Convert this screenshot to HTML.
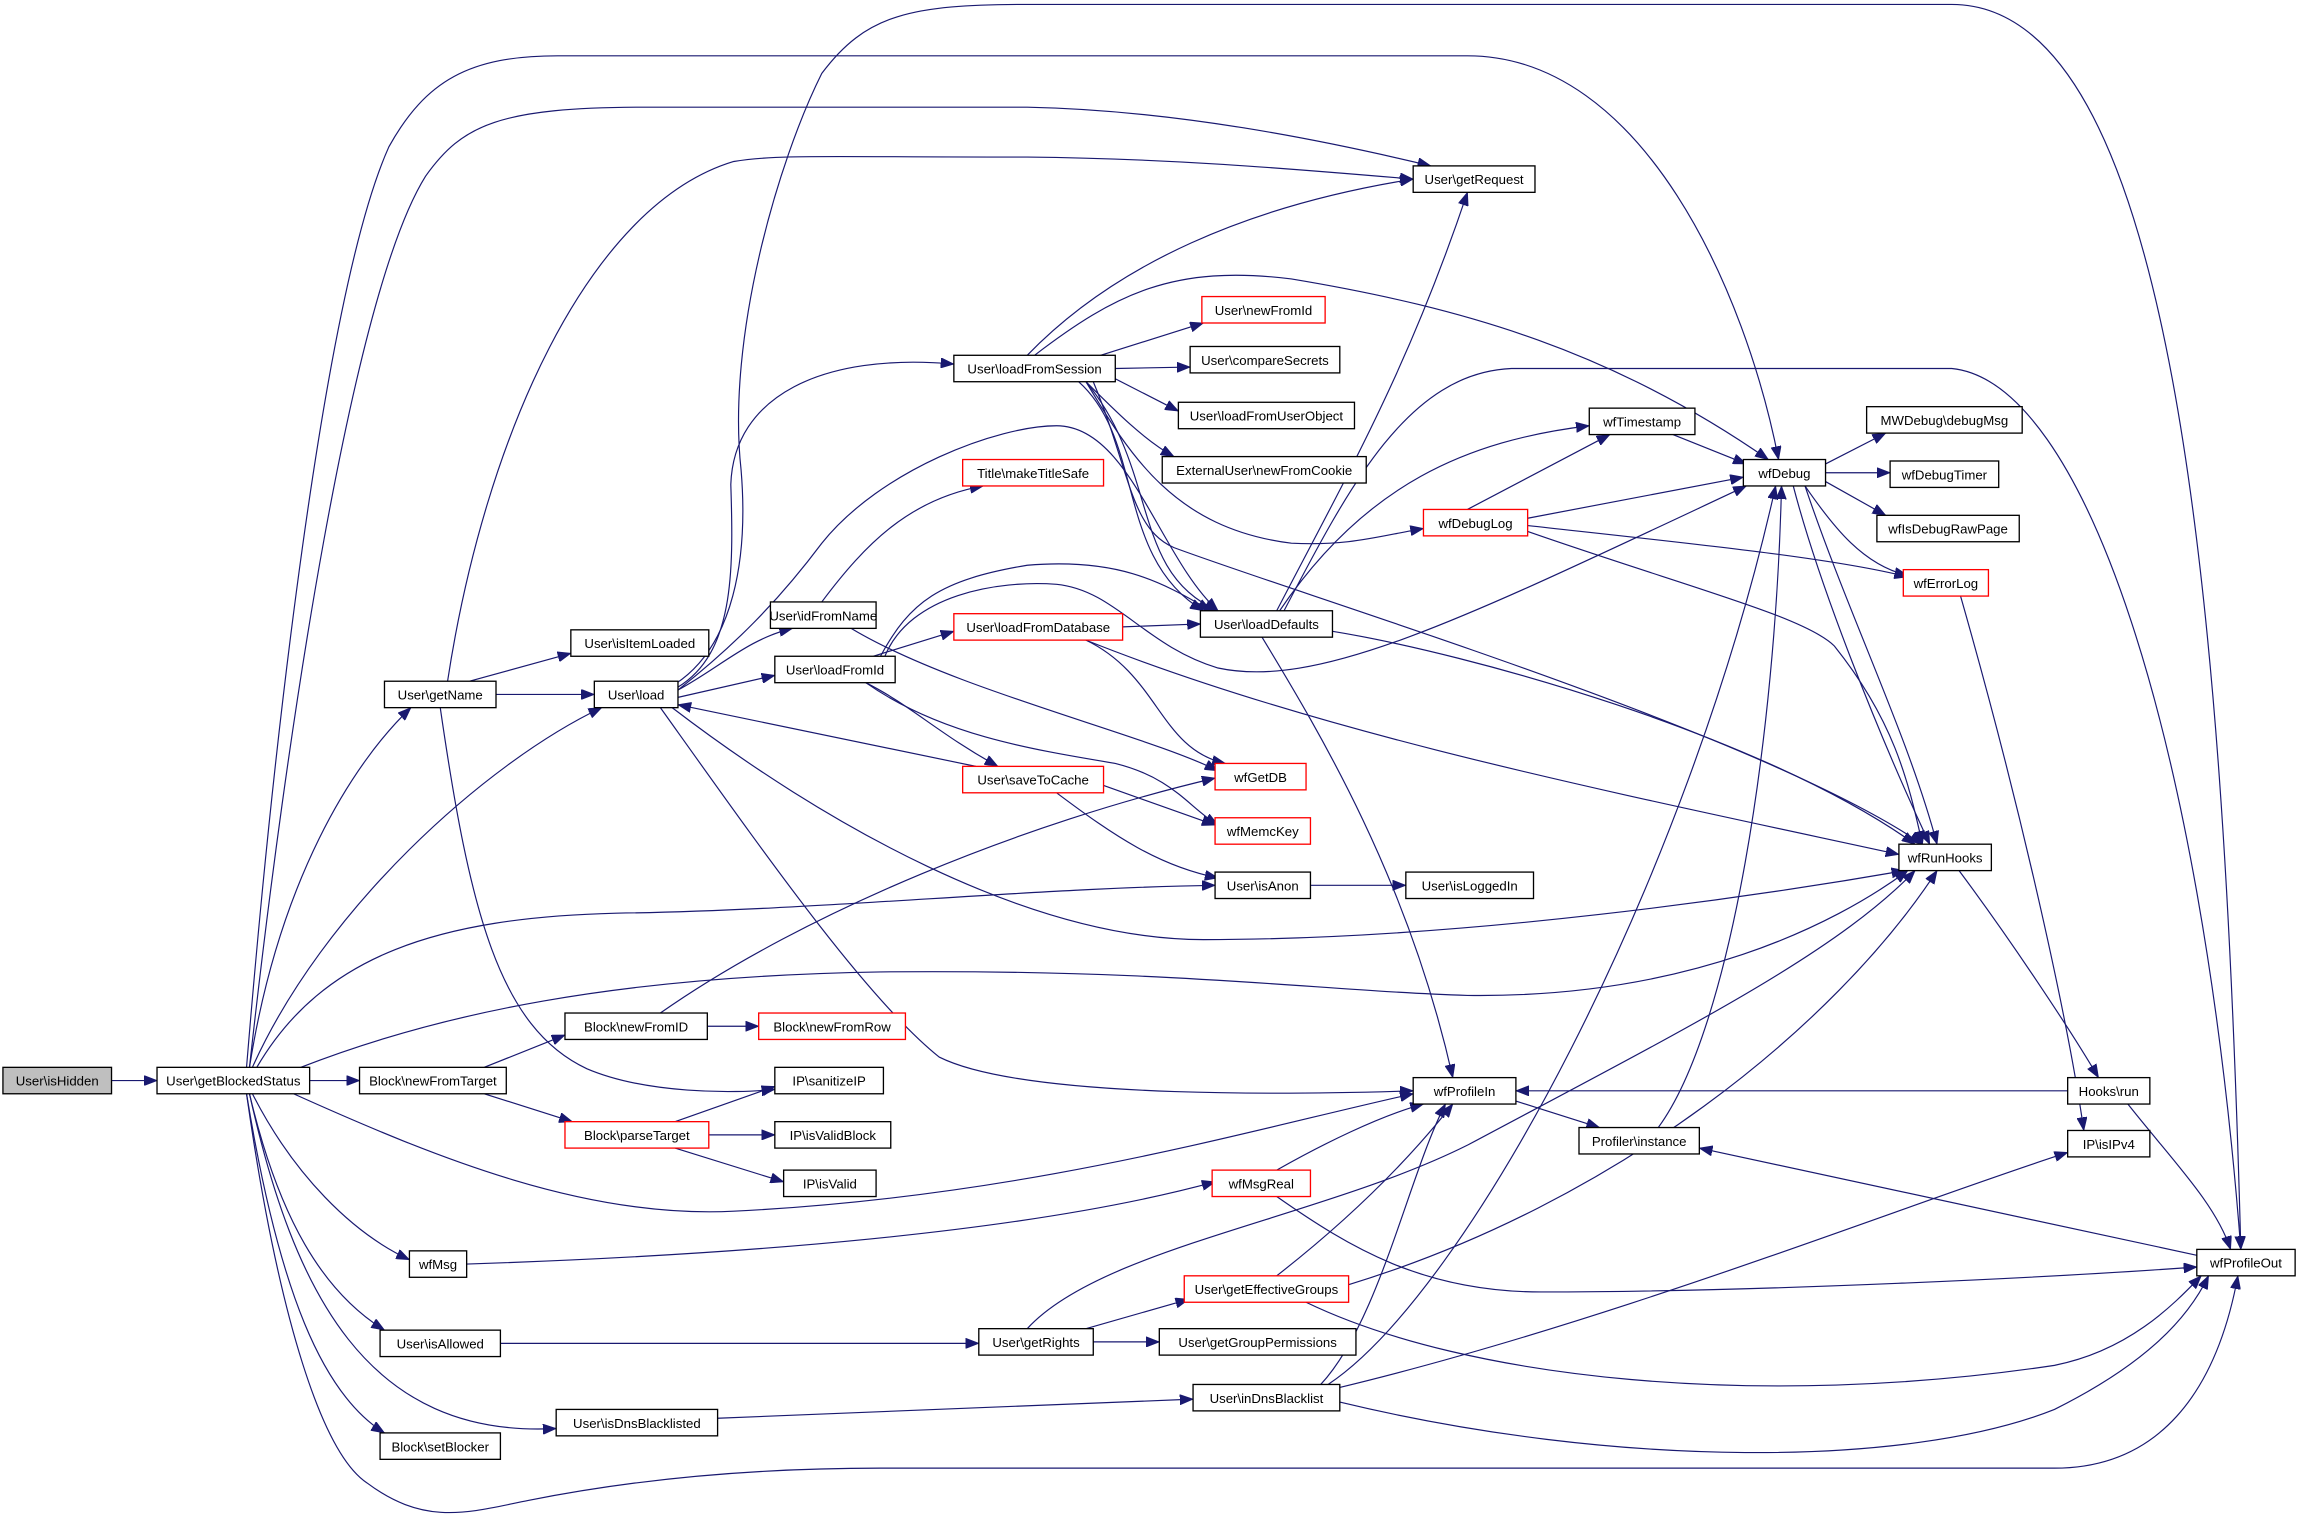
<!DOCTYPE html>
<html><head><meta charset="utf-8"><style>
html,body{margin:0;padding:0;background:#fff;}
svg{display:block;}
text{font-family:"Liberation Sans",sans-serif;font-size:9px;fill:#000;}
.e{fill:none;stroke:#191970;stroke-width:0.8;}
.n{fill:#fff;stroke:#000;stroke-width:0.9;}
.r{fill:#fff;stroke:#ff0000;stroke-width:0.9;}
.g{fill:#bfbfbf;stroke:#000;stroke-width:0.9;}
</style></head><body>
<svg width="2301" height="1521" viewBox="0 0 1568 1036" preserveAspectRatio="none" xmlns="http://www.w3.org/2000/svg">
<defs><marker id="a" markerWidth="9" markerHeight="7" refX="9" refY="3.5" orient="auto" markerUnits="userSpaceOnUse"><path d="M0,0 L9,3.5 L0,7 z" fill="#191970" stroke="#191970" stroke-width="0.5"/></marker></defs>
<g class="e" marker-end="url(#a)">
<path d="M76,736 L107,736"/>
<path d="M211,736 L245,736"/>
<path d="M170,727 C190,600 240,520 280,482"/>
<path d="M172,727 C220,620 330,520 410,482"/>
<path d="M168,727 C185,520 220,200 265,100 C290,55 320,38 380,38 L1000,38 C1120,38 1190,200 1212,313"/>
<path d="M170,727 C195,500 240,200 290,120 C315,85 340,73 440,73 L700,73 C800,75 900,95 975,113"/>
<path d="M168,745 C190,900 220,990 250,1010 C290,1040 320,1030 360,1022 C420,1010 500,1000 600,1000 L1400,1000 C1470,1000 1510,950 1525,869"/>
<path d="M175,727 C220,650 300,625 420,622 C560,620 700,605 828,603"/>
<path d="M205,727 C300,690 420,665 600,662 C800,660 900,675 1000,678 C1150,680 1250,630 1300,593"/>
<path d="M200,745 C300,790 400,830 500,825 C700,815 850,770 963,745"/>
<path d="M172,745 C200,800 240,840 279,858"/>
<path d="M170,745 C190,830 220,880 262,906"/>
<path d="M170,745 C200,880 250,980 379,973"/>
<path d="M168,745 C190,880 220,950 262,976"/>
<path d="M330,727 L385,705"/>
<path d="M330,745 L390,764"/>
<path d="M482,699 L517,699"/>
<path d="M450,690 C550,620 700,560 828,530"/>
<path d="M460,764 L528,740"/>
<path d="M483,773 L528,773"/>
<path d="M460,782 L534,805"/>
<path d="M300,482 C320,620 340,700 400,728 C440,745 500,745 528,742"/>
<path d="M320,464 L389,445"/>
<path d="M338,473 L405,473"/>
<path d="M305,464 C330,300 400,140 500,110 C530,105 560,107 700,107 C800,108 880,115 963,122"/>
<path d="M462,470 C490,455 510,435 540,428"/>
<path d="M462,475 L528,460"/>
<path d="M462,468 C500,445 500,390 498,330 C500,270 560,240 650,248"/>
<path d="M462,470 C500,440 530,410 560,370 C600,320 680,290 720,290 C770,290 790,380 830,416"/>
<path d="M460,466 C500,440 510,380 505,320 C495,230 530,110 560,50 C590,10 620,3 700,3 L1330,3 C1480,3 1515,400 1527,851"/>
<path d="M450,482 C520,580 590,680 640,720 C700,750 900,745 963,743"/>
<path d="M458,482 C560,560 700,640 820,640 C1000,640 1200,610 1298,593"/>
<path d="M665,522 L462,480"/>
<path d="M560,410 C590,370 620,340 670,331"/>
<path d="M580,428 C650,470 780,500 830,525"/>
<path d="M595,447 L650,430"/>
<path d="M590,465 C620,480 640,500 680,522"/>
<path d="M590,465 C640,500 700,510 760,520 C800,530 810,550 830,562"/>
<path d="M600,447 C620,410 640,395 700,385 C760,380 790,395 825,416"/>
<path d="M603,447 C620,405 680,395 720,398 C760,402 780,440 830,455 C900,470 1000,420 1190,331"/>
<path d="M765,427 L818,425"/>
<path d="M740,436 C790,460 790,510 835,520"/>
<path d="M740,436 C900,500 1100,540 1294,582"/>
<path d="M752,535 L828,562"/>
<path d="M720,540 C760,570 790,590 830,598"/>
<path d="M893,603 L958,603"/>
<path d="M700,242 C760,180 850,140 963,122"/>
<path d="M750,242 L820,220"/>
<path d="M760,251 L811,250"/>
<path d="M760,258 L803,280"/>
<path d="M740,260 C760,280 780,300 800,311"/>
<path d="M740,260 C770,310 800,360 880,370 C920,372 940,365 970,360"/>
<path d="M735,260 C780,300 760,380 820,416"/>
<path d="M740,260 C790,320 770,390 830,416"/>
<path d="M705,242 C760,200 800,180 880,190 C1000,210 1100,240 1205,313"/>
<path d="M745,260 C770,320 770,360 800,373 C900,410 1200,500 1310,575"/>
<path d="M870,416 C920,320 960,250 1000,131"/>
<path d="M872,416 C930,330 1000,300 1083,290"/>
<path d="M875,416 C920,330 960,254 1030,251 L1330,251 C1420,260 1500,500 1527,851"/>
<path d="M860,434 C900,500 960,600 990,734"/>
<path d="M908,430 C1000,445 1200,500 1305,575"/>
<path d="M1000,347 L1097,296"/>
<path d="M1041,353 L1188,325"/>
<path d="M1041,358 C1150,370 1250,380 1300,393"/>
<path d="M1041,362 C1150,400 1230,420 1250,440 C1290,490 1300,530 1310,575"/>
<path d="M1140,296 L1190,316"/>
<path d="M1244,316 L1285,295"/>
<path d="M1244,322 L1288,322"/>
<path d="M1244,328 L1285,351"/>
<path d="M1230,331 C1250,360 1270,385 1300,392"/>
<path d="M1222,331 C1240,400 1280,500 1315,575"/>
<path d="M1230,331 C1260,420 1300,500 1320,575"/>
<path d="M1336,406 C1380,560 1410,700 1420,770"/>
<path d="M1335,593 C1370,640 1410,700 1430,734"/>
<path d="M1409,743 L1033,743"/>
<path d="M1450,752 C1480,790 1510,820 1520,851"/>
<path d="M1033,750 L1090,768"/>
<path d="M1130,768 C1180,700 1210,500 1214,331"/>
<path d="M1497,855 L1158,782"/>
<path d="M318,861 C500,855 700,840 828,805"/>
<path d="M870,797 C900,780 940,760 970,752"/>
<path d="M870,815 C920,850 970,880 1050,880 C1200,880 1400,870 1497,863"/>
<path d="M341,915 L667,915"/>
<path d="M740,905 L810,885"/>
<path d="M745,914 L790,914"/>
<path d="M700,905 C750,850 900,830 1000,780 C1150,700 1250,650 1305,593"/>
<path d="M870,869 C920,830 960,790 990,752"/>
<path d="M919,875 C1100,820 1250,700 1320,593"/>
<path d="M890,887 C1000,940 1200,960 1400,930 C1450,920 1480,890 1500,869"/>
<path d="M489,966 L813,953"/>
<path d="M900,943 C940,900 960,800 985,752"/>
<path d="M905,943 C1000,880 1150,600 1210,331"/>
<path d="M913,945 C1100,900 1300,820 1409,785"/>
<path d="M913,955 C1100,1000 1300,1000 1400,960 C1460,930 1490,900 1505,869"/>
</g>
<g text-anchor="middle">
<rect class="g" x="2" y="727" width="74" height="18"/><text x="39" y="739.5">User\isHidden</text>
<rect class="n" x="107" y="727" width="104" height="18"/><text x="159" y="739.5">User\getBlockedStatus</text>
<rect class="n" x="245" y="727" width="100" height="18"/><text x="295" y="739.5">Block\newFromTarget</text>
<rect class="n" x="385" y="690" width="97" height="18"/><text x="433.5" y="702.5">Block\newFromID</text>
<rect class="r" x="517" y="690" width="100" height="18"/><text x="567" y="702.5">Block\newFromRow</text>
<rect class="r" x="385" y="764" width="98" height="18"/><text x="434" y="776.5">Block\parseTarget</text>
<rect class="n" x="528" y="727" width="74" height="18"/><text x="565" y="739.5">IP\sanitizeIP</text>
<rect class="n" x="528" y="764" width="79" height="18"/><text x="567.5" y="776.5">IP\isValidBlock</text>
<rect class="n" x="534" y="797" width="63" height="18"/><text x="565.5" y="809.5">IP\isValid</text>
<rect class="n" x="279" y="852" width="39" height="18"/><text x="298.5" y="864.5">wfMsg</text>
<rect class="n" x="259" y="906" width="82" height="18"/><text x="300" y="918.5">User\isAllowed</text>
<rect class="n" x="379" y="960" width="110" height="18"/><text x="434" y="972.5">User\isDnsBlacklisted</text>
<rect class="n" x="259" y="976" width="82" height="18"/><text x="300" y="988.5">Block\setBlocker</text>
<rect class="n" x="262" y="464" width="76" height="18"/><text x="300" y="476.5">User\getName</text>
<rect class="n" x="389" y="429" width="94" height="18"/><text x="436" y="441.5">User\isItemLoaded</text>
<rect class="n" x="405" y="464" width="57" height="18"/><text x="433.5" y="476.5">User\load</text>
<rect class="n" x="525" y="410" width="72" height="18"/><text x="561" y="422.5">User\idFromName</text>
<rect class="n" x="528" y="447" width="82" height="18"/><text x="569" y="459.5">User\loadFromId</text>
<rect class="r" x="650" y="418" width="115" height="18"/><text x="707.5" y="430.5">User\loadFromDatabase</text>
<rect class="r" x="656" y="313" width="96" height="18"/><text x="704" y="325.5">Title\makeTitleSafe</text>
<rect class="r" x="656" y="522" width="96" height="18"/><text x="704" y="534.5">User\saveToCache</text>
<rect class="r" x="828" y="520" width="62" height="18"/><text x="859" y="532.5">wfGetDB</text>
<rect class="r" x="828" y="557" width="65" height="18"/><text x="860.5" y="569.5">wfMemcKey</text>
<rect class="n" x="828" y="594" width="65" height="18"/><text x="860.5" y="606.5">User\isAnon</text>
<rect class="n" x="958" y="594" width="87" height="18"/><text x="1001.5" y="606.5">User\isLoggedIn</text>
<rect class="n" x="818" y="416" width="90" height="18"/><text x="863" y="428.5">User\loadDefaults</text>
<rect class="n" x="650" y="242" width="110" height="18"/><text x="705" y="254.5">User\loadFromSession</text>
<rect class="r" x="819" y="202" width="84" height="18"/><text x="861" y="214.5">User\newFromId</text>
<rect class="n" x="811" y="236" width="102" height="18"/><text x="862" y="248.5">User\compareSecrets</text>
<rect class="n" x="803" y="274" width="120" height="18"/><text x="863" y="286.5">User\loadFromUserObject</text>
<rect class="n" x="792" y="311" width="139" height="18"/><text x="861.5" y="323.5">ExternalUser\newFromCookie</text>
<rect class="n" x="963" y="113" width="83" height="18"/><text x="1004.5" y="125.5">User\getRequest</text>
<rect class="n" x="1083" y="278" width="72" height="18"/><text x="1119" y="290.5">wfTimestamp</text>
<rect class="r" x="970" y="347" width="71" height="18"/><text x="1005.5" y="359.5">wfDebugLog</text>
<rect class="n" x="1188" y="313" width="56" height="18"/><text x="1216" y="325.5">wfDebug</text>
<rect class="n" x="1272" y="277" width="106" height="18"/><text x="1325" y="289.5">MWDebug\debugMsg</text>
<rect class="n" x="1288" y="314" width="74" height="18"/><text x="1325" y="326.5">wfDebugTimer</text>
<rect class="n" x="1279" y="351" width="97" height="18"/><text x="1327.5" y="363.5">wfIsDebugRawPage</text>
<rect class="r" x="1297" y="388" width="58" height="18"/><text x="1326" y="400.5">wfErrorLog</text>
<rect class="n" x="1294" y="575" width="63" height="18"/><text x="1325.5" y="587.5">wfRunHooks</text>
<rect class="n" x="1409" y="734" width="56" height="18"/><text x="1437" y="746.5">Hooks\run</text>
<rect class="n" x="1409" y="770" width="56" height="18"/><text x="1437" y="782.5">IP\isIPv4</text>
<rect class="n" x="1497" y="851" width="67" height="18"/><text x="1530.5" y="863.5">wfProfileOut</text>
<rect class="n" x="963" y="734" width="70" height="18"/><text x="998" y="746.5">wfProfileIn</text>
<rect class="n" x="1076" y="768" width="82" height="18"/><text x="1117" y="780.5">Profiler\instance</text>
<rect class="r" x="826" y="797" width="67" height="18"/><text x="859.5" y="809.5">wfMsgReal</text>
<rect class="r" x="807" y="869" width="112" height="18"/><text x="863" y="881.5">User\getEffectiveGroups</text>
<rect class="n" x="790" y="905" width="134" height="18"/><text x="857" y="917.5">User\getGroupPermissions</text>
<rect class="n" x="667" y="905" width="78" height="18"/><text x="706" y="917.5">User\getRights</text>
<rect class="n" x="813" y="943" width="100" height="18"/><text x="863" y="955.5">User\inDnsBlacklist</text>
</g>
</svg>
</body></html>
